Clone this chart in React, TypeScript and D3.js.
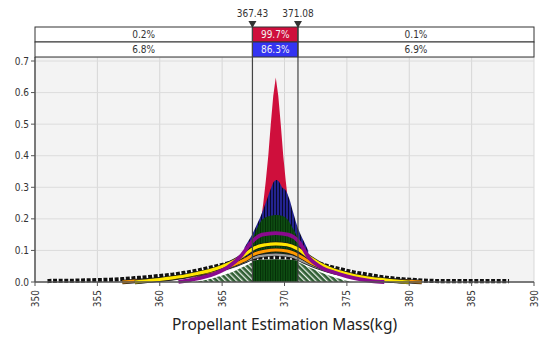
import { useEffect, useRef } from 'react';
import * as d3 from 'd3';

const W = 545;
const H = 343;

const xTicks = [350, 355, 360, 365, 370, 375, 380, 385, 390];
const yTicks = [0, 0.1, 0.2, 0.3, 0.4, 0.5, 0.6, 0.7];
const delimiters = [367.43, 371.08];
const rowTop = ['0.2%', '99.7%', '0.1%'];
const rowBottom = ['6.8%', '86.3%', '6.9%'];

// tallest, narrowest result (red)
const redX = [367.7, 367.9, 368.1, 368.3, 368.5, 368.7, 368.9, 369.1, 369.3, 369.5, 369.7, 369.9, 370.1, 370.3, 370.5, 370.7, 370.9];
const redY = [0.10, 0.14, 0.19, 0.25, 0.32, 0.40, 0.50, 0.59, 0.648, 0.59, 0.50, 0.40, 0.32, 0.25, 0.19, 0.14, 0.10];

// navy result
const navyX = [366.8, 367.1, 367.4, 367.7, 368.0, 368.3, 368.6, 368.9, 369.15, 369.35, 369.55, 369.8, 370.1, 370.4, 370.7, 371.0, 371.3, 371.6, 371.9];
const navyY = [0.11, 0.13, 0.15, 0.175, 0.20, 0.23, 0.262, 0.295, 0.318, 0.323, 0.318, 0.30, 0.29, 0.262, 0.22, 0.18, 0.15, 0.125, 0.10];

// dark green result (inside the delimiters)
const greenX = [367.43, 367.8, 368.2, 368.6, 369.0, 369.4, 369.8, 370.2, 370.6, 371.08];
const greenY = [0.135, 0.17, 0.197, 0.207, 0.211, 0.212, 0.21, 0.2, 0.175, 0.138];

// hatched green result (outside the delimiters)
const hatchX = [362.5, 363, 364, 364.6, 365.5, 366.2, 367, 367.43, 369.3, 371.08, 372, 373, 374, 375, 376];
const hatchY = [0, 0.005, 0.013, 0.02, 0.031, 0.043, 0.058, 0.066, 0.075, 0.066, 0.05, 0.033, 0.019, 0.008, 0];

// purple result
const purpleX = [361.5, 362.5, 363.5, 364.5, 365.5, 366.5, 367.4, 368.2, 369.3, 370.3, 371.1, 372, 373, 374, 375, 376, 377, 378];
const purpleY = [0, 0.007, 0.015, 0.028, 0.048, 0.082, 0.128, 0.15, 0.155, 0.15, 0.13, 0.075, 0.045, 0.03, 0.018, 0.009, 0.003, 0];

// yellow result
const yellowX = [358, 359, 360, 361, 362, 363, 364, 365, 366, 367, 367.5, 368.5, 369.3, 370.2, 371, 372, 373, 374, 375, 376, 377, 378, 379, 380];
const yellowY = [0, 0.004, 0.008, 0.013, 0.019, 0.027, 0.036, 0.049, 0.067, 0.092, 0.106, 0.118, 0.121, 0.118, 0.106, 0.078, 0.054, 0.037, 0.026, 0.017, 0.011, 0.007, 0.003, 0];

// orange result
const orangeX = [357, 358, 359, 360, 361, 362, 363, 364, 365, 366, 367, 367.5, 368.5, 369.3, 370.2, 371, 372, 373, 374, 375, 376, 377, 378, 379, 380, 381];
const orangeY = [0, 0.003, 0.005, 0.008, 0.012, 0.017, 0.024, 0.032, 0.042, 0.056, 0.074, 0.087, 0.098, 0.101, 0.098, 0.087, 0.064, 0.046, 0.033, 0.023, 0.015, 0.01, 0.006, 0.004, 0.002, 0];

// gray result
const grayX = [363, 364, 365, 366, 367, 368, 369.3, 370.5, 371.5, 372.5, 373.5, 374.5, 375.5];
const grayY = [0.02, 0.03, 0.04, 0.052, 0.068, 0.082, 0.087, 0.082, 0.065, 0.048, 0.035, 0.025, 0.018];

// widest result (black)
const blackX = [351, 352, 353, 354, 355, 356, 357, 358, 359, 360, 361, 362, 363, 364, 365, 366, 367, 368, 369.3, 370.5, 371.5, 372.5, 373.5, 374.5, 375.5, 376.5, 377.5, 378.5, 379.5, 380.5, 381.5, 382.5, 383.5, 384.5, 385.5, 386.5, 387.5, 388];
const blackY = [0.003, 0.004, 0.004, 0.005, 0.006, 0.007, 0.009, 0.012, 0.015, 0.019, 0.023, 0.029, 0.036, 0.045, 0.054, 0.064, 0.072, 0.077, 0.079, 0.077, 0.073, 0.062, 0.05, 0.04, 0.031, 0.024, 0.017, 0.012, 0.0085, 0.006, 0.004, 0.003, 0.003, 0.003, 0.003, 0.003, 0.003, 0.003];

const zip = (xs: number[], ys: number[]): [number, number][] => xs.map((v, i) => [v, ys[i]]);

const App = () => {
  const ref = useRef<SVGSVGElement>(null);

  useEffect(() => {
    const svg = d3.select(ref.current);
    svg.selectAll('*').remove();

    const font = '"DejaVu Sans Condensed", "DejaVu Sans", sans-serif';
    const left = 35;
    const right = 534;
    const plotTop = 57;
    const x = d3.scaleLinear().domain([350, 390]).range([left, right]);
    const y = d3.scaleLinear().domain([0, 0.7]).range([282, 61]);
    const base = y(0);

    // patterns for the histogram bars
    const defs = svg.append('defs');
    const navyP = defs.append('pattern').attr('id', 'navyBars').attr('patternUnits', 'userSpaceOnUse')
      .attr('width', 3).attr('height', 10);
    navyP.append('rect').attr('width', 3).attr('height', 10).attr('fill', '#23238f');
    navyP.append('rect').attr('width', 0.9).attr('height', 10).attr('fill', '#050520');

    const greenP = defs.append('pattern').attr('id', 'greenBars').attr('patternUnits', 'userSpaceOnUse')
      .attr('width', 2.5).attr('height', 10);
    greenP.append('rect').attr('width', 2.5).attr('height', 10).attr('fill', '#0e4d12');
    greenP.append('rect').attr('width', 0.8).attr('height', 10).attr('fill', '#032a06');

    const hatchP = defs.append('pattern').attr('id', 'greenHatch').attr('patternUnits', 'userSpaceOnUse')
      .attr('width', 4).attr('height', 4).attr('patternTransform', 'rotate(-45)');
    hatchP.append('rect').attr('width', 4).attr('height', 4).attr('fill', '#2f5e33');
    hatchP.append('rect').attr('width', 1.3).attr('height', 4).attr('fill', '#e8f0e8');

    // plot background + grid
    svg.append('rect').attr('x', left).attr('y', plotTop).attr('width', right - left).attr('height', base - plotTop)
      .attr('fill', '#f3f3f3').attr('stroke', '#cfcfcf').attr('stroke-width', 0.8);

    svg.append('g').selectAll('line').data(xTicks.slice(1, -1)).join('line')
      .attr('x1', d => x(d)).attr('x2', d => x(d)).attr('y1', plotTop).attr('y2', base)
      .attr('stroke', '#d6d6d6').attr('stroke-width', 1);
    svg.append('g').selectAll('line').data(yTicks.slice(1)).join('line')
      .attr('x1', left).attr('x2', right).attr('y1', d => y(d)).attr('y2', d => y(d))
      .attr('stroke', '#dcdcdc').attr('stroke-width', 1);

    // filled histograms
    const area = d3.area<[number, number]>().x(d => x(d[0])).y0(base).y1(d => y(d[1]));
    const line = d3.line<[number, number]>().x(d => x(d[0])).y(d => y(d[1])).curve(d3.curveMonotoneX);

    svg.append('path').attr('d', area.curve(d3.curveLinear)(zip(redX, redY)))
      .attr('fill', '#cf0f3c');
    svg.append('path').attr('d', area.curve(d3.curveMonotoneX)(zip(navyX, navyY)))
      .attr('fill', 'url(#navyBars)');
    svg.append('path').attr('d', area.curve(d3.curveMonotoneX)(zip(hatchX, hatchY)))
      .attr('fill', 'url(#greenHatch)');
    svg.append('path').attr('d', line(zip(hatchX, hatchY))).attr('fill', 'none')
      .attr('stroke', '#ffffff').attr('stroke-width', 2.4);
    svg.append('path').attr('d', area.curve(d3.curveMonotoneX)(zip(greenX, greenY)))
      .attr('fill', 'url(#greenBars)');

    // outlines of the flatter results
    svg.append('path').attr('d', line(zip(blackX, blackY))).attr('fill', 'none')
      .attr('stroke', '#ffffff').attr('stroke-width', 4.2);
    svg.append('path').attr('d', line(zip(blackX, blackY))).attr('fill', 'none')
      .attr('stroke', '#111').attr('stroke-width', 4.2).attr('stroke-dasharray', '4 1.6');

    const drawEdged = (xs: number[], ys: number[], color: string, w: number) => {
      svg.append('path').attr('d', line(zip(xs, ys))).attr('fill', 'none')
        .attr('stroke', '#1a1a1a').attr('stroke-width', w + 1.4);
      svg.append('path').attr('d', line(zip(xs, ys))).attr('fill', 'none')
        .attr('stroke', color).attr('stroke-width', w);
    };
    drawEdged(grayX, grayY, '#9a9a9a', 2.2);
    drawEdged(orangeX, orangeY, '#ff9a00', 3);
    drawEdged(yellowX, yellowY, '#ffe600', 3.2);
    svg.append('path').attr('d', line(zip(purpleX, purpleY))).attr('fill', 'none')
      .attr('stroke', '#8a0a8e').attr('stroke-width', 3.8);

    // axes
    svg.append('line').attr('x1', left).attr('x2', left).attr('y1', plotTop).attr('y2', base)
      .attr('stroke', '#555').attr('stroke-width', 1.5);
    svg.append('line').attr('x1', left).attr('x2', right).attr('y1', base).attr('y2', base)
      .attr('stroke', '#555').attr('stroke-width', 1.5);

    const yAxis = svg.append('g');
    yAxis.selectAll('line').data(yTicks).join('line')
      .attr('x1', left - 4).attr('x2', left).attr('y1', d => y(d)).attr('y2', d => y(d))
      .attr('stroke', '#555');
    yAxis.selectAll('text').data(yTicks).join('text')
      .attr('x', left - 6).attr('y', d => y(d)).attr('dy', '0.35em').attr('text-anchor', 'end')
      .style('font-family', font).style('font-size', '10px').style('fill', '#333')
      .text(d => d.toFixed(1));

    const xAxis = svg.append('g');
    xAxis.selectAll('line').data(xTicks).join('line')
      .attr('x1', d => x(d)).attr('x2', d => x(d)).attr('y1', base).attr('y2', base + 4)
      .attr('stroke', '#555');
    xAxis.selectAll('text').data(xTicks).join('text')
      .attr('transform', d => `translate(${x(d)},${base + 8}) rotate(-90)`)
      .attr('dy', '0.35em').attr('text-anchor', 'end')
      .style('font-family', font).style('font-size', '10px').style('fill', '#333')
      .text(d => d);

    svg.append('text').attr('x', (left + right) / 2).attr('y', 330).attr('text-anchor', 'middle')
      .style('font-family', '"Noto Sans", sans-serif').style('font-size', '15.5px').style('fill', '#222')
      .text('Propellant Estimation Mass(kg)');

    // summary band above the plot
    const rowY = [27, 42];
    const rowH = 15;
    const edges = [left, x(delimiters[0]), x(delimiters[1]), right];
    const fills = [['#ffffff', '#cf0f3c', '#ffffff'], ['#ffffff', '#3434f2', '#ffffff']];
    [rowTop, rowBottom].forEach((row, r) => {
      row.forEach((label, c) => {
        svg.append('rect').attr('x', edges[c]).attr('y', rowY[r]).attr('width', edges[c + 1] - edges[c])
          .attr('height', rowH).attr('fill', fills[r][c]).attr('stroke', '#333').attr('stroke-width', 1);
        svg.append('text').attr('x', (edges[c] + edges[c + 1]) / 2).attr('y', rowY[r] + rowH / 2)
          .attr('dy', '0.35em').attr('text-anchor', 'middle')
          .style('font-family', font).style('font-size', '10px')
          .style('fill', c === 1 ? '#f2f2f2' : '#333')
          .text(label);
      });
    });

    // delimiters
    delimiters.forEach(d => {
      const px = x(d);
      svg.append('line').attr('x1', px).attr('x2', px).attr('y1', 24).attr('y2', base)
        .attr('stroke', '#444').attr('stroke-width', 1.2);
      svg.append('path').attr('d', `M${px - 4},21L${px + 4},21L${px},28Z`).attr('fill', '#333');
      svg.append('text').attr('x', px).attr('y', 17).attr('text-anchor', 'middle')
        .style('font-family', font).style('font-size', '10px').style('fill', '#333')
        .text(d.toFixed(2));
    });
  }, []);

  return (
    <svg ref={ref} width={W} height={H}
      style={{ position: 'absolute', left: 0, top: 0, background: '#fff' }} />
  );
};

export default App;
